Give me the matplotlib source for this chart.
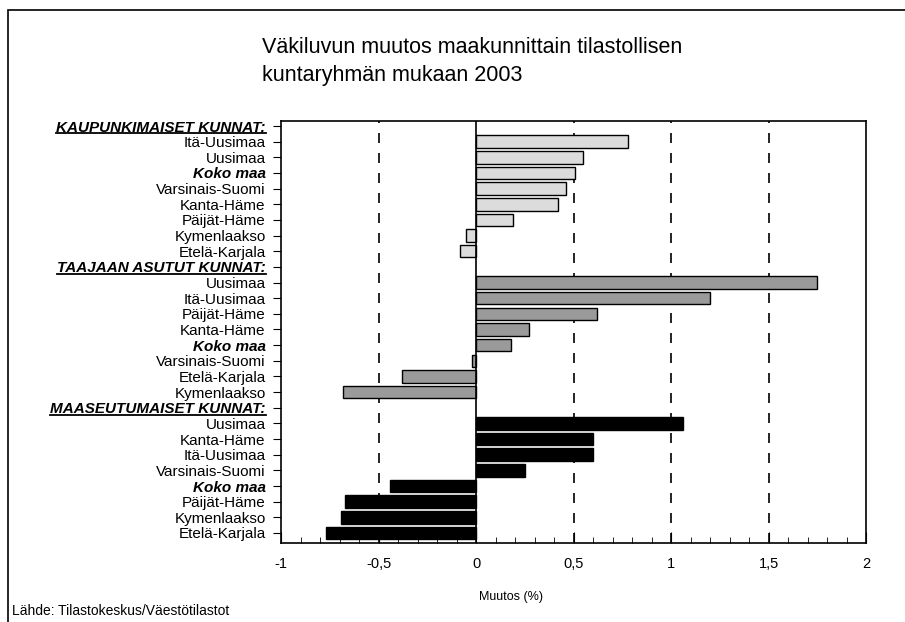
import matplotlib
matplotlib.use('Agg')
import matplotlib.pyplot as plt
from matplotlib.lines import Line2D
from matplotlib.patches import Rectangle
from matplotlib.ticker import MultipleLocator

plt.rcParams['font.family'] = ['Liberation Sans', 'DejaVu Sans']

# Ryhmät ja arvot (muutos %)
kaupunki_labels = ['Itä-Uusimaa', 'Uusimaa', 'Koko maa', 'Varsinais-Suomi',
                   'Kanta-Häme', 'Päijät-Häme', 'Kymenlaakso', 'Etelä-Karjala']
kaupunki_values = [0.78, 0.55, 0.51, 0.46, 0.42, 0.19, -0.05, -0.08]

taajama_labels = ['Uusimaa', 'Itä-Uusimaa', 'Päijät-Häme', 'Kanta-Häme',
                  'Koko maa', 'Varsinais-Suomi', 'Etelä-Karjala', 'Kymenlaakso']
taajama_values = [1.75, 1.20, 0.62, 0.27, 0.18, -0.02, -0.38, -0.68]

maaseutu_labels = ['Uusimaa', 'Kanta-Häme', 'Itä-Uusimaa', 'Varsinais-Suomi',
                   'Koko maa', 'Päijät-Häme', 'Kymenlaakso', 'Etelä-Karjala']
maaseutu_values = [1.06, 0.60, 0.60, 0.25, -0.44, -0.67, -0.69, -0.77]

headers = ['KAUPUNKIMAISET KUNNAT:', 'TAAJAAN ASUTUT KUNNAT:', 'MAASEUTUMAISET KUNNAT:']
groups = [(kaupunki_labels, kaupunki_values, '#dcdcdc'),
          (taajama_labels, taajama_values, '#9a9a9a'),
          (maaseutu_labels, maaseutu_values, '#000000')]

fig = plt.figure(figsize=(9.05, 6.22), dpi=100)
ax = fig.add_axes([281 / 905, 1 - 543 / 622, 585 / 905, 422 / 622])

# kehys koko kuvan ympärille
fig.patches.append(Rectangle((8 / 905, -0.05), 1.0, 1 - 10 / 622 + 0.05,
                             transform=fig.transFigure, fill=False,
                             edgecolor='black', linewidth=1.2))

labels = []
pos = 0
for header, (labs, vals, color) in zip(headers, groups):
    labels.append(header)
    pos += 1
    ys = list(range(pos, pos + len(labs)))
    ax.barh(ys, vals, height=0.8, color=color, edgecolor='black', linewidth=1)
    labels.extend(labs)
    pos += len(labs)

ax.set_yticks(range(len(labels)))
ticklabels = ax.set_yticklabels(labels, fontsize=11)
ax.set_ylim(len(labels) - 1 + 0.64, -0.32)

ax.set_xlim(-1, 2)
ax.set_xticks([-1, -0.5, 0, 0.5, 1, 1.5, 2])
ax.set_xticklabels(['-1', '-0,5', '0', '0,5', '1', '1,5', '2'], fontsize=10.5)
ax.xaxis.set_minor_locator(MultipleLocator(0.1))
ax.tick_params(axis='x', which='major', direction='in', length=8, pad=10)
ax.tick_params(axis='x', which='minor', direction='in', length=4)
ax.tick_params(axis='y', direction='out', length=6, pad=5)

for x in [-0.5, 0.5, 1, 1.5]:
    ax.axvline(x, color='black', linestyle=(0, (6, 6)), linewidth=1.2, zorder=0)
ax.axvline(0, color='black', linewidth=1.2, zorder=3)

for s in ax.spines.values():
    s.set_linewidth(1.2)

for t in ticklabels:
    txt = t.get_text()
    if txt in headers or txt == 'Koko maa':
        t.set_fontweight('bold')
        t.set_fontstyle('italic')

fig.text(262 / 905, 1 - 37 / 622,
         'Väkiluvun muutos maakunnittain tilastollisen\nkuntaryhmän mukaan 2003',
         fontsize=15.5, ha='left', va='top', linespacing=1.45)
fig.text(511 / 905, 1 - 597 / 622, 'Muutos (%)', fontsize=9, ha='center', va='center')
fig.text(12 / 905, 1 - 611 / 622, 'Lähde: Tilastokeskus/Väestötilastot',
         fontsize=10, ha='left', va='center')

# alleviivaukset otsikkoriveille
fig.canvas.draw()
renderer = fig.canvas.get_renderer()
inv = fig.transFigure.inverted()
for t in ticklabels:
    if t.get_text() in headers:
        bb = t.get_window_extent(renderer)
        (x0, y0), (x1, _) = inv.transform([[bb.x0, bb.y0], [bb.x1, bb.y1]])
        fig.add_artist(Line2D([x0, x1], [y0 + 0.002, y0 + 0.002],
                              transform=fig.transFigure, color='black', linewidth=1.3))

plt.savefig('out.png', dpi=100)
plt.close()
